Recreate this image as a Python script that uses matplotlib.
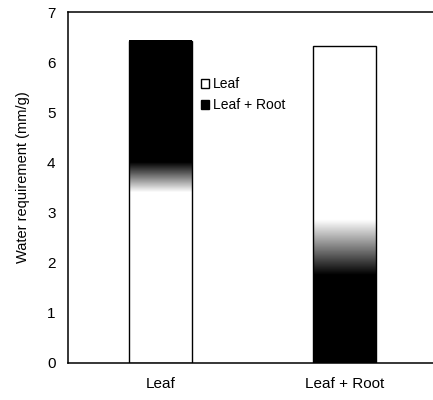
import numpy as np
import matplotlib
matplotlib.use("Agg")
import matplotlib.pyplot as plt
from matplotlib.patches import Patch

plt.rcParams["font.family"] = ["Liberation Sans", "DejaVu Sans"]

categories = ["Leaf", "Leaf + Root"]
leaf = [3.7, 4.03]        # white part
leaf_root = [2.73, 2.3]   # black part
white_on_bottom = [True, False]
blur = [0.3, 0.55]        # half-width of the grey transition

fig = plt.figure(figsize=(4.33, 4.0), dpi=100)
ax = fig.add_axes([0.157, 0.0925, 0.843, 0.8775])

x = np.arange(len(categories))
width = 0.342

for i in range(len(categories)):
    total = leaf[i] + leaf_root[i]
    edge = leaf[i] if white_on_bottom[i] else leaf_root[i]
    ys = np.linspace(0, total, 400)
    t = np.clip((ys - edge) / blur[i], -1, 1) * 0.5 + 0.5
    col = t if white_on_bottom[i] else 1 - t   # 1 = black
    img = col[:, None] * np.ones((1, 2))
    ax.imshow(img, cmap="gray_r", vmin=0, vmax=1, origin="lower", aspect="auto",
              extent=(x[i] - width / 2, x[i] + width / 2, 0, total),
              interpolation="bilinear", zorder=1)
    ax.bar(x[i], total, width, facecolor="none", edgecolor="black", linewidth=1, zorder=2)

ax.set_xlim(-0.503, 1.481)
ax.set_ylim(0, 7)
ax.set_yticks(range(8))
ax.set_xticks(x)
ax.set_xticklabels(categories, fontsize=11)
ax.tick_params(axis="y", length=0, labelsize=11, pad=9)
ax.tick_params(axis="x", length=0, pad=10)
ax.spines["right"].set_visible(False)
for s in ["left", "top", "bottom"]:
    ax.spines[s].set_linewidth(1.1)
ax.set_ylabel("Water requirement (mm/g)", fontsize=10.5, labelpad=12, y=0.53)

handles = [Patch(facecolor="white", edgecolor="black", label="Leaf"),
           Patch(facecolor="black", edgecolor="black", label="Leaf + Root")]
ax.legend(handles=handles, loc="upper left", bbox_to_anchor=(0.348, 0.83), frameon=False,
          fontsize=10, handlelength=0.6, handleheight=0.6, handletextpad=0.3, labelspacing=0.5,
          borderaxespad=0)

fig.savefig("out.png", dpi=100)
